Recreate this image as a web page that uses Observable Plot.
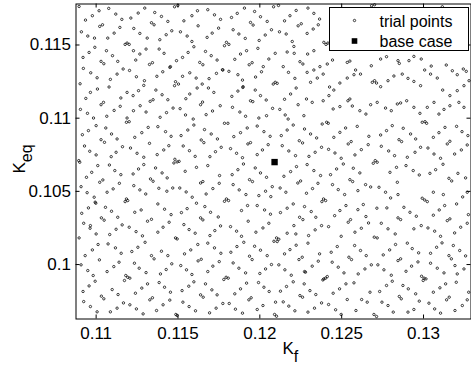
<!DOCTYPE html>
<html><head><meta charset="utf-8">
<script src="https://cdn.jsdelivr.net/npm/d3@7"></script>
<script src="https://cdn.jsdelivr.net/npm/@observablehq/plot@0.6"></script>
<style>body{margin:0;background:#fff}</style>
</head><body><div id="chart"></div>
<script>
// Trial points (Kf, Keq)
const trialKf = [
0.10896,0.11018,0.11077,0.11120,0.11157,0.11212,0.11257,0.11297,0.11358,0.10977,0.10935,0.11022,0.11039,0.10910,0.10949,0.10990,0.11071,0.11110,0.11145,0.11230,0.11267,0.11312,0.11338,0.11354,0.11177,0.11189,0.11202,0.10992,0.10957,0.10920,0.11063,0.11100,0.11132,0.11030,0.11047,0.11305,0.11267,0.11242,0.11326,0.11344,0.11228,0.10922,0.10967,0.11006,0.11087,0.11128,0.11165,0.11204,0.11246,0.11295,0.10902,0.10965,0.11008,0.11079,0.10937,0.11030,0.11045,0.11151,0.11189,0.11226,0.11259,0.11291,0.11330,0.11348,0.10904,0.10947,0.10984,0.11065,0.11110,0.11147,0.11228,0.11269,0.11305,0.11189,
0.11185,0.11202,0.10916,0.10953,0.11000,0.11059,0.11094,0.11128,0.11236,0.11279,0.11318,0.10929,0.10961,0.11000,0.11030,0.11051,0.11092,0.11122,0.11161,0.11210,0.11250,0.11291,0.11326,0.10894,0.10900,0.11010,0.10973,0.10941,0.11081,0.11114,0.11151,0.11226,0.11259,0.11291,0.11332,0.11348,0.11022,0.11041,0.10908,0.10945,0.10988,0.10994,0.11067,0.11104,0.11142,0.11185,0.11193,0.11177,0.11230,0.11267,0.11303,0.10912,0.10953,0.10998,0.11057,0.11094,0.11132,0.11032,0.11049,0.10965,0.10924,0.11000,0.10963,0.10896,0.11083,0.11122,0.11159,0.11202,0.11236,0.11275,0.11314,0.11338,0.11244,0.11283,
0.11012,0.11073,0.11118,0.11153,0.10977,0.10933,0.11020,0.10908,0.10949,0.10982,0.10994,0.11067,0.11108,0.11140,0.11234,0.11263,0.11305,0.11299,0.11255,0.11218,0.11338,0.11354,0.11181,0.11193,0.11206,0.11173,0.10920,0.10957,0.11032,0.11047,0.11098,0.11134,0.11240,0.11279,0.11314,0.10924,0.10965,0.11006,0.11087,0.11128,0.11167,0.11206,0.11246,0.11287,0.11328,0.11344,
0.11479,0.11499,0.11399,0.11438,0.11536,0.11585,0.11619,0.11682,0.11723,0.11760,0.11827,0.11862,0.11906,0.11968,0.12004,0.12045,0.12084,0.12114,0.12151,0.12184,0.12222,
0.11389,0.11428,0.11462,0.11515,0.11556,0.11585,0.11597,0.11623,0.11678,0.11709,0.11748,0.11796,0.11784,0.11811,0.11837,0.11872,0.11911,0.11943,0.11959,0.11996,0.12033,0.12071,0.12120,0.12161,0.12198,0.12208,0.12234,0.12253,
0.11385,0.11415,0.11454,0.11491,0.11528,0.11562,0.11633,0.11652,0.11668,0.11703,0.11739,0.11774,0.11811,0.11847,0.11882,0.11919,0.11935,0.11953,0.11988,0.12021,0.12055,0.12094,0.12143,0.12167,0.12210,0.12245,0.12263,
0.11371,0.11407,0.11450,0.11485,0.11479,0.11503,0.11528,0.11572,0.11611,0.11648,0.11690,0.11735,0.11772,0.11866,0.11894,0.11896,0.11974,0.12010,0.12094,0.12106,0.12082,0.12175,0.12214,
0.11365,0.11403,0.11438,0.11391,0.11430,0.11470,0.11513,0.11548,0.11572,0.11617,0.11638,0.11650,0.11686,0.11719,0.11758,0.11711,0.11672,0.11593,0.11546,0.11829,0.11866,0.11898,0.11943,0.11957,0.11972,0.12004,0.12039,0.12078,0.12122,0.12151,0.12188,0.12222,0.12234,0.12269,0.12155,0.12173,0.12041,0.11994,0.11913,0.11878,0.11833,
0.11377,0.11424,0.11458,0.11519,0.11560,0.11597,0.11662,0.11703,0.11741,0.11784,0.11805,0.11841,0.11882,0.11923,0.11984,0.12025,0.12063,0.12131,0.12167,0.12204,0.12273,
0.11373,0.11413,0.11444,0.11532,0.11570,0.11605,0.11642,0.11658,0.11695,0.11729,0.11764,0.11821,0.11858,0.11894,0.11927,0.11943,0.11984,0.12016,0.12051,0.12137,0.12177,0.12218,0.12241,0.12261,
0.11481,0.11495,0.11507,0.11475,
0.11363,0.11403,0.11434,0.11544,0.11613,0.11638,0.11652,0.11682,0.11713,0.11754,0.11752,0.11831,0.11866,0.11900,0.11937,0.11955,0.11972,0.12004,0.12041,0.12076,0.12147,0.12188,0.12224,0.12232,0.12249,
0.11383,0.11432,0.11468,0.11511,0.11550,0.11587,0.11377,0.11418,0.11458,0.11521,0.11556,0.11613,0.11664,0.11672,0.11699,0.11746,0.11784,0.11796,0.11809,0.11837,0.11874,0.11915,0.11888,0.11925,0.11984,0.11994,0.12035,0.12067,0.12029,0.12065,0.12124,0.12159,0.12204,0.12167,0.12126,0.12243,0.12263,0.12273,
0.11377,0.11409,0.11446,0.11536,0.11568,0.11605,0.11638,0.11652,0.11695,0.11725,0.11760,0.11821,0.11858,0.11888,0.11929,0.11976,0.12019,0.12055,0.12102,0.12116,0.12167,0.12208,0.12220,0.11485,0.11495,
0.11399,0.11438,0.11540,0.11578,0.11621,0.11682,0.11723,0.11762,0.11823,0.11860,0.11902,0.11968,0.12004,0.12045,0.12086,0.12106,0.12151,0.12184,0.12222,0.12259,0.12239,
0.11393,0.11428,0.11462,0.11517,0.11552,0.11585,0.11623,0.11642,0.11682,0.11713,0.11752,0.11780,0.11794,0.11807,0.11837,0.11872,0.11913,0.11937,0.11953,0.12000,0.12035,0.12071,0.12116,0.12153,0.12192,0.12273,
0.11385,0.11418,0.11454,0.11525,0.11566,0.11597,0.11638,0.11654,0.11668,0.11707,0.11739,0.11774,0.11813,0.11847,0.11882,0.11919,0.11933,0.11947,0.11992,0.12025,0.12057,0.12096,0.12126,0.12163,0.12204,0.12245,0.12261,0.12271,
0.11369,0.11409,0.11450,0.11487,0.11495,0.11530,0.11568,0.11607,0.11693,0.11733,0.11851,0.11894,0.11984,0.12019,0.12090,0.12102,0.12143,0.12177,0.12214,
0.12294,0.12330,0.12365,0.12289,0.12326,0.12357,0.12391,0.12404,0.12416,0.12683,0.12701,0.13115,
0.12292,0.12330,0.12289,0.12330,0.12367,0.12310,0.12351,0.12387,0.12412,0.12444,0.12534,0.12550,0.12585,0.12615,0.12681,0.12738,0.12774,0.12844,0.12852,0.12911,0.12941,0.12986,0.13047,0.13139,0.13176,0.13206,0.13243,0.13261,
0.12426,0.12452,0.12489,0.12534,0.12575,0.12687,0.12701,0.12713,0.12738,0.12783,0.12819,0.12870,0.12905,0.12941,0.12982,0.13007,0.13043,0.13084,0.13117,0.13161,0.13206,0.13247,0.13278,
0.12285,0.12320,0.12387,0.12422,0.12448,0.12489,0.12538,0.12550,0.12565,0.12611,0.12648,0.12677,0.12717,0.12768,0.12803,0.12840,0.12860,0.12897,0.12941,0.12978,0.13023,0.13064,0.13094,0.13125,0.13161,0.13216,0.13247,
0.12310,0.12347,0.12381,0.12408,0.12418,0.12452,0.12489,0.12524,0.12595,0.12666,0.12738,0.12774,0.12809,0.12876,0.12921,0.12952,0.12992,0.13009,0.13019,0.13060,0.13094,0.13131,0.13202,0.13235,0.13271,
0.12300,0.12338,0.12377,0.12420,0.12459,0.12497,0.12540,0.12558,0.12581,0.12620,0.12662,0.12693,0.12705,0.12717,0.12742,0.12787,0.12823,0.12850,0.12866,0.12901,0.12948,0.12982,0.13027,0.13064,0.13104,0.13145,0.13161,0.13190,0.13231,0.13267,
0.12289,0.12330,0.12285,0.12322,0.12355,0.12371,0.12432,0.12469,0.12510,0.12571,0.12550,0.12567,0.12611,0.12646,0.12677,0.12728,0.12768,0.12795,0.12835,0.12840,0.12893,0.12937,0.12974,0.13039,0.13074,0.13119,0.13155,0.13172,0.13210,0.13257,
0.12314,0.12342,0.12379,0.12389,0.12402,0.12444,0.12479,0.12518,0.12457,0.12489,0.12526,0.12599,0.12632,0.12599,0.12648,0.12715,0.12776,0.12799,0.12844,0.12880,0.12917,0.12956,0.12992,0.13007,0.13023,0.13060,0.13121,0.13202,0.13239,0.13267,0.13096,0.13129,0.13060,0.13274,
0.12298,0.12338,0.12377,0.12420,0.12497,0.12540,0.12554,0.12581,0.12620,0.12664,0.12699,0.12717,0.12742,0.12783,0.12827,0.12844,0.12860,0.12941,0.12986,0.13027,0.13068,0.13104,0.13145,0.13161,0.13190,0.13227,0.13267,
0.12294,0.12365,0.12436,0.12473,0.12579,0.12615,0.12650,0.12754,0.12793,0.12829,0.12901,0.12931,0.12970,0.13043,0.13080,0.13113,0.13182,0.13221,0.13257,0.13155,0.13170,
0.12279,0.12320,0.12357,0.12385,0.12391,0.12402,0.12412,0.12442,0.12479,0.12514,0.12544,0.12560,0.12601,0.12642,0.12681,0.12721,0.12758,0.12803,0.12844,0.12860,0.12893,0.12927,0.12966,0.12988,0.13003,0.13015,0.12998,0.13043,0.13084,0.13125,0.13192,0.13206,0.13247,
0.12306,0.12342,0.12377,0.12420,0.12448,0.12487,0.12526,0.12575,0.12534,0.12587,0.12622,0.12656,0.12673,0.12732,0.12746,0.12783,0.12815,0.12774,0.12809,0.12852,0.12864,0.12874,0.12907,0.12952,0.12974,0.13033,0.13060,0.13100,0.13135,0.13141,0.13157,0.13200,0.13237,0.13267,0.13276,
0.12294,0.12334,0.12463,0.12497,0.12697,0.12713,0.12905,0.12941,0.13068,0.13104,0.13192
];
const trialKeq = [
0.11763,0.11734,0.11750,0.11711,0.11675,0.11684,0.11718,0.11752,0.11722,0.11700,0.11670,0.11627,0.11638,0.11590,0.11561,0.11547,0.11547,0.11581,0.11620,0.11613,0.11579,0.11547,0.11652,0.11638,0.11504,0.11513,0.11504,0.11484,0.11449,0.11415,0.11461,0.11427,0.11388,0.11388,0.11372,0.11472,0.11438,0.11397,0.11367,0.11379,0.11461,0.11340,0.11310,0.11276,0.11265,0.11301,0.11336,0.11326,0.11283,0.11256,0.11235,0.11176,0.11199,0.11213,0.11135,0.11092,0.11108,0.11138,0.11176,0.11154,0.11188,0.11224,0.11115,0.11126,0.11060,0.11033,0.11001,0.11013,0.11053,0.11081,0.11051,0.11085,0.11042,0.11001,
0.10972,0.10976,0.10887,0.10915,0.10949,0.10933,0.10892,0.10858,0.10869,0.10901,0.10937,0.10810,0.10774,0.10749,0.10853,0.10835,0.10737,0.10767,0.10805,0.10796,0.10760,0.10733,0.10828,0.10710,0.10699,0.10676,0.10630,0.10596,0.10680,0.10642,0.10614,0.10619,0.10653,0.10683,0.10585,0.10569,0.10562,0.10578,0.10532,0.10491,0.10460,0.10426,0.10494,0.10517,0.10555,0.10448,0.10437,0.10430,0.10539,0.10510,0.10482,0.10350,0.10387,0.10419,0.10391,0.10364,0.10323,0.10319,0.10303,0.10266,0.10282,0.10209,0.10248,0.10182,0.10205,0.10241,0.10271,0.10255,0.10357,0.10373,0.10296,0.10309,0.10225,0.10196,
0.10137,0.10141,0.10114,0.10077,0.10100,0.10061,0.10032,0.09998,0.09959,0.09925,0.09886,0.09952,0.09986,0.10016,0.10009,0.09975,0.09945,0.10152,0.10118,0.10089,0.10061,0.10039,0.09925,0.09913,0.09907,0.09891,0.09816,0.09854,0.09784,0.09766,0.09829,0.09795,0.09804,0.09839,0.09868,0.09747,0.09713,0.09677,0.09677,0.09702,0.09738,0.09725,0.09697,0.09663,0.09759,0.09773,
0.11761,0.11770,0.11695,0.11661,0.11665,0.11700,0.11734,0.11741,0.11706,0.11675,0.11688,0.11716,0.11752,0.11729,0.11693,0.11661,0.11761,0.11770,0.11665,0.11700,0.11736,
0.11536,0.11570,0.11597,0.11590,0.11561,0.11524,0.11488,0.11631,0.11552,0.11581,0.11615,0.11518,0.11495,0.11504,0.11604,0.11575,0.11545,0.11654,0.11636,0.11531,0.11568,0.11604,0.11590,0.11575,0.11524,0.11490,0.11631,0.11645,
0.11472,0.11443,0.11352,0.11393,0.11415,0.11449,0.11381,0.11365,0.11456,0.11427,0.11397,0.11329,0.11320,0.11402,0.11438,0.11461,0.11365,0.11379,0.11477,0.11352,0.11404,0.11443,0.11352,0.11452,0.11443,0.11386,0.11370,
0.11286,0.11317,0.11347,0.11249,0.11222,0.11233,0.11286,0.11310,0.11274,0.11233,0.11270,0.11306,0.11331,0.11297,0.11260,0.11210,0.11281,0.11317,0.11245,0.11238,0.11233,0.11313,0.11272,
0.11192,0.11160,0.11126,0.11006,0.11038,0.11069,0.11065,0.11133,0.11165,0.11206,0.11092,0.11110,0.11206,0.11176,0.11085,0.11049,0.11024,0.10994,0.11022,0.11149,0.11185,0.11215,0.11119,0.11113,0.11192,0.11154,0.11124,0.11067,0.11060,0.11129,0.11165,0.11206,0.11092,0.11017,0.11022,0.10994,0.11017,0.11001,0.11013,0.11042,0.11074,
0.10942,0.10908,0.10876,0.10881,0.10919,0.10953,0.10922,0.10892,0.10858,0.10965,0.10965,0.10874,0.10901,0.10933,0.10946,0.10908,0.10876,0.10881,0.10919,0.10953,0.10926,
0.10751,0.10783,0.10812,0.10810,0.10778,0.10739,0.10851,0.10833,0.10737,0.10771,0.10801,0.10792,0.10760,0.10730,0.10824,0.10833,0.10751,0.10783,0.10819,0.10812,0.10776,0.10744,0.10846,0.10831,
0.10719,0.10701,0.10705,0.10694,
0.10660,0.10626,0.10592,0.10637,0.10664,0.10557,0.10567,0.10676,0.10519,0.10608,0.10555,0.10614,0.10648,0.10687,0.10580,0.10567,0.10660,0.10626,0.10596,0.10532,0.10603,0.10635,0.10669,0.10557,0.10571,
0.10521,0.10501,0.10523,0.10523,0.10496,0.10460,0.10414,0.10378,0.10341,0.10355,0.10382,0.10419,0.10396,0.10482,0.10357,0.10325,0.10432,0.10448,0.10437,0.10546,0.10510,0.10478,0.10369,0.10403,0.10403,0.10471,0.10501,0.10464,0.10373,0.10344,0.10523,0.10494,0.10414,0.10385,0.10355,0.10323,0.10307,0.10396,
0.10221,0.10255,0.10289,0.10273,0.10239,0.10214,0.10319,0.10305,0.10198,0.10232,0.10264,0.10259,0.10228,0.10193,0.10296,0.10221,0.10250,0.10282,0.10182,0.10173,0.10214,0.10266,0.10209,0.10182,0.10175,
0.10091,0.10061,0.10073,0.10100,0.10137,0.10146,0.10114,0.10077,0.10084,0.10123,0.10152,0.10125,0.10098,0.10061,0.10159,0.10157,0.10073,0.10102,0.10132,0.10050,0.10034,
0.09936,0.09966,0.10005,0.09993,0.09964,0.09932,0.10025,0.10036,0.09952,0.09989,0.10020,0.09898,0.09913,0.09907,0.10011,0.09975,0.09943,0.10057,0.10034,0.09939,0.09970,0.10000,0.09998,0.09964,0.09927,0.09952,
0.09877,0.09845,0.09811,0.09822,0.09852,0.09882,0.09793,0.09777,0.09868,0.09827,0.09793,0.09734,0.09734,0.09800,0.09834,0.09873,0.09759,0.09773,0.09877,0.09845,0.09816,0.09743,0.09818,0.09850,0.09882,0.09788,0.09777,0.09868,
0.09686,0.09725,0.09757,0.09659,0.09652,0.09743,0.09713,0.09684,0.09670,0.09702,0.09695,0.09668,0.09693,0.09720,0.09659,0.09647,0.09745,0.09716,0.09684,
0.11752,0.11716,0.11677,0.11579,0.11609,0.11638,0.11518,0.11504,0.11513,0.11768,0.11775,0.11761,
0.11438,0.11461,0.11313,0.11329,0.11352,0.11245,0.11274,0.11301,0.11370,0.11397,0.11381,0.11390,0.11329,0.11301,0.11358,0.11404,0.11420,0.11393,0.11374,0.11393,0.11422,0.11404,0.11356,0.11363,0.11324,0.11297,0.11336,0.11320,
0.11213,0.11192,0.11240,0.11274,0.11297,0.11245,0.11256,0.11240,0.11215,0.11256,0.11288,0.11301,0.11272,0.11251,0.11222,0.11329,0.11301,0.11274,0.11192,0.11154,0.11188,0.11222,0.11256,
0.11131,0.11108,0.11119,0.11154,0.11063,0.11079,0.11119,0.11131,0.11083,0.11051,0.11028,0.11092,0.11108,0.11069,0.11051,0.11097,0.11104,0.11119,0.11074,0.11033,0.11074,0.11108,0.11028,0.11060,0.11085,0.11108,0.11074,
0.10892,0.10865,0.10960,0.10972,0.10965,0.10869,0.10903,0.10933,0.10944,0.10876,0.10885,0.10915,0.10949,0.10931,0.10892,0.10858,0.10972,0.10976,0.10965,0.10869,0.10901,0.10937,0.10944,0.10908,0.10881,
0.10739,0.10767,0.10801,0.10787,0.10762,0.10726,0.10824,0.10840,0.10749,0.10785,0.10819,0.10692,0.10710,0.10699,0.10808,0.10776,0.10744,0.10853,0.10840,0.10733,0.10767,0.10801,0.10796,0.10755,0.10726,0.10824,0.10842,0.10755,0.10783,0.10817,
0.10683,0.10642,0.10487,0.10519,0.10555,0.10608,0.10614,0.10653,0.10687,0.10658,0.10580,0.10567,0.10626,0.10546,0.10530,0.10528,0.10494,0.10630,0.10664,0.10562,0.10676,0.10642,0.10612,0.10623,0.10648,0.10685,0.10589,0.10571,0.10623,0.10592,
0.10362,0.10323,0.10430,0.10448,0.10437,0.10546,0.10512,0.10478,0.10334,0.10369,0.10403,0.10505,0.10410,0.10375,0.10328,0.10385,0.10387,0.10455,0.10478,0.10391,0.10357,0.10330,0.10453,0.10441,0.10430,0.10494,0.10478,0.10414,0.10462,0.10494,0.10373,0.10403,0.10337,0.10341,
0.10198,0.10237,0.10266,0.10259,0.10193,0.10289,0.10307,0.10221,0.10248,0.10284,0.10187,0.10182,0.10282,0.10244,0.10209,0.10319,0.10307,0.10244,0.10266,0.10250,0.10228,0.10193,0.10300,0.10312,0.10216,0.10255,0.10282,
0.10146,0.10073,0.10084,0.10123,0.10130,0.10096,0.10061,0.10066,0.10100,0.10137,0.10146,0.10109,0.10080,0.10077,0.10118,0.10148,0.10130,0.10096,0.10059,0.10061,0.10039,
0.09948,0.09989,0.10023,0.09895,0.09902,0.09907,0.09918,0.10016,0.09982,0.09943,0.10050,0.10034,0.09936,0.09970,0.09998,0.09998,0.09964,0.09927,0.10027,0.10039,0.09954,0.09989,0.10018,0.09920,0.09907,0.09902,0.09891,0.10009,0.09975,0.09943,0.09993,0.09936,0.09970,
0.09822,0.09795,0.09738,0.09727,0.09804,0.09834,0.09868,0.09875,0.09761,0.09686,0.09761,0.09743,0.09811,0.09816,0.09743,0.09720,0.09675,0.09857,0.09886,0.09782,0.09766,0.09857,0.09834,0.09800,0.09750,0.09736,0.09811,0.09841,0.09868,0.09759,0.09777,0.09879,0.09720,0.09759,0.09811,
0.09675,0.09702,0.09691,0.09659,0.09659,0.09645,0.09675,0.09693,0.09697,0.09668,0.09686
];
// Base case
const baseKf = [0.1209];
const baseKeq = [0.1070];
// Axis ticks and legend
const xTicks = [0.11, 0.115, 0.12, 0.125, 0.13];
const yTicks = [0.1, 0.105, 0.11, 0.115];
const legendLabels = ["trial points", "base case"];

const trial = trialKf.map((k, i) => ({kf: k, keq: trialKeq[i]}));
const base = baseKf.map((k, i) => ({kf: k, keq: baseKeq[i]}));
const fmt = d => String(+d.toFixed(3));
const FONT = "'Liberation Sans', Arial, Helvetica, sans-serif";

const svg = Plot.plot({
  width: 471, height: 365,
  marginLeft: 75.5, marginRight: 0.5, marginTop: 3.5, marginBottom: 46.5,
  style: {fontFamily: FONT, fontSize: "17px", color: "#000", background: "#fff"},
  x: {domain: [0.10877, 0.1329], ticks: xTicks, tickFormat: fmt, label: null},
  y: {domain: [0.09628, 0.1178], ticks: yTicks, tickFormat: fmt, label: null},
  marks: [
    Plot.dot(trial, {x: "kf", y: "keq", r: 1.2, stroke: "#000", strokeWidth: 0.75, fill: "none"}),
    Plot.dot(base, {x: "kf", y: "keq", symbol: "square", r: 3.6, fill: "#000", stroke: "none"}),
    Plot.axisX(xTicks, {anchor: "bottom", tickSize: 0, tickPadding: 8, tickFormat: fmt, label: null}),
    Plot.axisY(yTicks, {anchor: "left", tickSize: 0, tickPadding: 5, tickFormat: fmt, label: null}),
    Plot.tickX(xTicks, {x: d => d, insetTop: 311, stroke: "#000"}),
    Plot.tickX(xTicks, {x: d => d, insetBottom: 311, stroke: "#000"}),
    Plot.tickY(yTicks, {y: d => d, insetRight: 391, stroke: "#000"}),
    Plot.tickY(yTicks, {y: d => d, insetLeft: 391, stroke: "#000"}),
    Plot.frame({stroke: "#000", strokeWidth: 1})
  ]
});

const s = d3.select(svg);
// legend
const lg = s.append("g").attr("font-family", FONT).attr("font-size", 16).attr("fill", "#000")
  .attr("text-anchor", "start");
lg.append("rect").attr("x", 329.5).attr("y", 7.5).attr("width", 139).attr("height", 43)
  .attr("fill", "#fff").attr("stroke", "#000").attr("stroke-width", 1);
lg.append("circle").attr("cx", 354.5).attr("cy", 20.5).attr("r", 1.2)
  .attr("fill", "none").attr("stroke", "#000").attr("stroke-width", 0.75);
lg.append("rect").attr("x", 351.7).attr("y", 38.2).attr("width", 5.6).attr("height", 5.6).attr("fill", "#000");
lg.append("text").attr("x", 379.5).attr("y", 26.5).attr("text-anchor", "start").text(legendLabels[0]);
lg.append("text").attr("x", 379.5).attr("y", 47).attr("text-anchor", "start").text(legendLabels[1]);
// axis labels
const xl = s.append("text").attr("font-family", FONT).attr("font-size", 17).attr("fill", "#000")
  .attr("text-anchor", "start").attr("x", 282.5).attr("y", 354);
xl.append("tspan").text("K");
xl.append("tspan").attr("dy", 8).attr("font-size", 16).text("f");
const yl = s.append("text").attr("font-family", FONT).attr("font-size", 17).attr("fill", "#000")
  .attr("text-anchor", "start").attr("transform", "translate(25,173.5) rotate(-90)");
yl.append("tspan").text("K");
yl.append("tspan").attr("dy", 7).attr("font-size", 16).text("eq");

document.getElementById("chart").appendChild(svg);
</script>
</body></html>
